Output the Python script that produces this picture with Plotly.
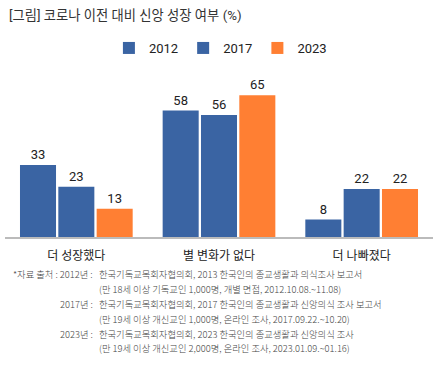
import plotly.graph_objects as go

categories = ["더 성장했다", "별 변화가 없다", "더 나빠졌다"]
series_names = ["2012", "2017", "2023"]
values_2012 = [33, 58, 8]
values_2017 = [23, 56, 22]
values_2023 = [13, 65, 22]
colors = ["#3A64A3", "#3A64A3", "#FF7F33"]

title_text = "[그림] 코로나 이전 대비 신앙 성장 여부 (%)"
source_labels = ["*자료 출처 : 2012년 :", "", "2017년 :", "", "2023년 :", ""]
source_lines = [
    "한국기독교목회자협의회, 2013 한국인의 종교생활과 의식조사 보고서",
    "(만 18세 이상 기독교인 1,000명, 개별 면접, 2012.10.08.~11.08)",
    "한국기독교목회자협의회, 2017 한국인의 종교생활과 신앙의식 조사 보고서",
    "(만 19세 이상 개신교인 1,000명, 온라인 조사, 2017.09.22.~10.20)",
    "한국기독교목회자협의회, 2023 한국인의 종교생활과 신앙의식 조사",
    "(만 19세 이상 개신교인 2,000명, 온라인 조사, 2023.01.09.~01.16)",
]

FONT = "Roboto, 'Noto Sans CJK KR', sans-serif"
NOTE_FONT = "'Noto Sans CJK KR', sans-serif"
W, H = 448, 368
ML, MR, MT, MB = 5, 15, 80, 130.5

fig = go.Figure()
for name, vals, col in zip(series_names, [values_2012, values_2017, values_2023], colors):
    fig.add_trace(go.Bar(
        name=name, x=categories, y=vals,
        marker=dict(color=col, line=dict(width=0)),
        text=[str(v) for v in vals], textposition="outside",
        textfont=dict(size=13, color="#222222", family=FONT),
        cliponaxis=False,
    ))

plot_w = W - ML - MR
plot_h = H - MT - MB


def px_to_paper(px, py):
    return (px - ML) / plot_w, 1 - (py - MT) / plot_h


annotations = []
ax, ay = px_to_paper(7, 15)
annotations.append(dict(
    text=title_text, x=ax, y=ay, xref="paper", yref="paper",
    xanchor="left", yanchor="middle", showarrow=False,
    font=dict(size=13.3, color="#333333", family=FONT),
))
line_y = [275, 290, 305, 320, 335, 349]
for lab, txt, yy in zip(source_labels, source_lines, line_y):
    if lab:
        lx, ly = px_to_paper(95, yy)
        annotations.append(dict(
            text=lab, x=lx, y=ly, xref="paper", yref="paper",
            xanchor="right", yanchor="middle", showarrow=False,
            font=dict(size=9.3, color="#444444", family=NOTE_FONT, weight=300),
        ))
    tx, ty = px_to_paper(97, yy)
    annotations.append(dict(
        text=txt, x=tx, y=ty, xref="paper", yref="paper",
        xanchor="left", yanchor="middle", showarrow=False,
        font=dict(size=9.3, color="#444444", family=NOTE_FONT, weight=300),
    ))

fig.update_layout(
    width=W, height=H,
    margin=dict(l=ML, r=MR, t=MT, b=MB, autoexpand=False),
    paper_bgcolor="white", plot_bgcolor="white",
    barmode="group", bargap=0.194, bargroupgap=0.06,
    showlegend=True,
    legend=dict(orientation="h", x=0.492, xanchor="center", y=1 - 48 / H,
                yanchor="middle", xref="container", yref="container",
                font=dict(size=13, color="#222222", family=FONT),
                itemwidth=30, traceorder="normal"),
    xaxis=dict(showline=True, linecolor="#BBBBBB", linewidth=1.5,
               ticks="outside", ticklen=7, tickcolor="rgba(0,0,0,0)",
               tickfont=dict(size=12, color="#222222", family=FONT),
               showgrid=False, fixedrange=True),
    yaxis=dict(range=[0, 72], visible=False, showgrid=False, fixedrange=True),
    font=dict(family=FONT),
    annotations=annotations,
)

fig.write_html("out.html", config={"displayModeBar": False},
               post_script="document.body.style.margin='0';")
